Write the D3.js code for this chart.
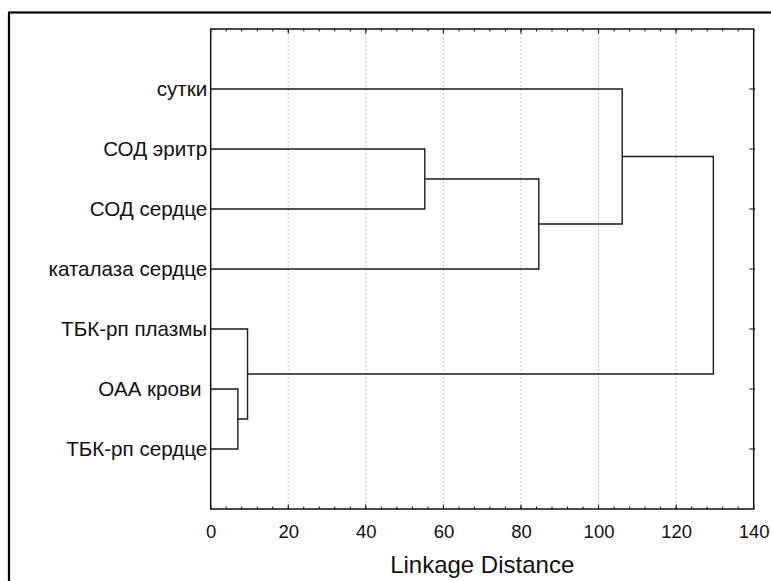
<!DOCTYPE html>
<html>
<head>
<meta charset="utf-8">
<script src="https://cdn.jsdelivr.net/npm/d3@7"></script>
<style>
  html, body { margin: 0; padding: 0; background: #fff; }
  svg { display: block; }
  text { font-family: Arial, "Liberation Sans", sans-serif; fill: #111; }
</style>
</head>
<body>
<svg id="chart" width="771" height="581"></svg>
<script>
// Variables, top to bottom in tree order
const leafLabels = ["сутки", "СОД эритр", "СОД сердце", "каталаза сердце",
                    "ТБК-рп плазмы", "ОАА крови ", "ТБК-рп сердце"];

// Agglomeration steps: joinFirst + joinSecond -> joinName at joinDistance
const joinName     = ["K1", "K2", "K3", "K4", "K5", "K6"];
const joinFirst    = ["СОД эритр", "K1", "сутки", "ОАА крови ", "ТБК-рп плазмы", "K3"];
const joinSecond   = ["СОД сердце", "каталаза сердце", "K2", "ТБК-рп сердце", "K4", "K5"];
const joinDistance = [55.2, 84.6, 106.1, 7.0, 9.5, 129.6];

const xTickValues = [0, 20, 40, 60, 80, 100, 120, 140];
const xDomain = [0, 140];
const xTitle = "Linkage Distance";

// Build the nested tree from the join table
const nodes = new Map(leafLabels.map(n => [n, { name: n, dist: 0 }]));
joinName.forEach((n, i) => {
  nodes.set(n, {
    name: n,
    dist: joinDistance[i],
    children: [nodes.get(joinFirst[i]), nodes.get(joinSecond[i])]
  });
});
const root = d3.hierarchy(nodes.get(joinName[joinName.length - 1]));

const svg = d3.select("#chart");
const plot = { left: 210.7, right: 753.7, top: 29, bottom: 509 };

const x = d3.scaleLinear().domain(xDomain).range([plot.left, plot.right]);
const y = d3.scalePoint().domain(leafLabels).range([plot.top, plot.bottom]).padding(1);

// Outer frame
svg.append("rect")
  .attr("x", 9).attr("y", 12.5)
  .attr("width", 800).attr("height", 600)
  .attr("fill", "none").attr("stroke", "#000").attr("stroke-width", 2.2);

// Vertical dotted grid
svg.append("g")
  .selectAll("line")
  .data(xTickValues.filter(v => v > xDomain[0] && v < xDomain[1]))
  .join("line")
  .attr("x1", d => x(d)).attr("x2", d => x(d))
  .attr("y1", plot.top).attr("y2", plot.bottom)
  .attr("stroke", "#c4c4c4").attr("stroke-width", 1)
  .attr("stroke-dasharray", "2,2");

// Tick marks: minor every 4 units, major at labelled values
const minorTicks = d3.range(xDomain[0], xDomain[1] + 0.001, 4);
const tickG = svg.append("g").attr("stroke", "#111").attr("stroke-width", 1);
[plot.top, plot.bottom].forEach((yy, k) => {
  const dir = k === 0 ? 1 : -1;
  tickG.selectAll(null).data(minorTicks).join("line")
    .attr("x1", d => x(d)).attr("x2", d => x(d))
    .attr("y1", yy).attr("y2", yy + dir * 2.5);
  tickG.selectAll(null).data(xTickValues).join("line")
    .attr("x1", d => x(d)).attr("x2", d => x(d))
    .attr("y1", yy).attr("y2", yy + dir * 4.5);
});
// Right-hand ticks at each leaf
tickG.selectAll(null).data(leafLabels).join("line")
  .attr("x1", plot.right - 4.5).attr("x2", plot.right + 1.5)
  .attr("y1", d => y(d)).attr("y2", d => y(d));

// Bottom axis labels
const xAxis = d3.axisBottom(x).tickValues(xTickValues).tickSize(0).tickPadding(0)
  .tickFormat(d3.format("d"));
const gx = svg.append("g").attr("transform", `translate(0,${plot.bottom})`).call(xAxis);
gx.select(".domain").remove();
gx.selectAll("text")
  .attr("y", 28.5).attr("dy", null)
  .style("font-size", "18.5px")
  .style("font-family", "Arial, 'Liberation Sans', sans-serif")
  .attr("fill", "#111");

// Axis title
svg.append("text")
  .attr("x", (plot.left + plot.right) / 2).attr("y", 573)
  .attr("text-anchor", "middle")
  .style("font-size", "24px")
  .text(xTitle);

// Leaf labels
svg.append("g").selectAll("text").data(leafLabels).join("text")
  .attr("x", plot.left - 3.5)
  .attr("y", d => y(d) + 7)
  .attr("text-anchor", "end")
  .style("font-size", "20.6px")
  .style("white-space", "pre")
  .text(d => d);

// Node positions: leaves from the point scale, joins at the midpoint of their children
root.eachAfter(n => {
  n.py = n.children ? (n.children[0].py + n.children[1].py) / 2 : y(n.data.name);
  n.px = x(n.data.dist);
});

// Elbow links of the dendrogram
const linkG = svg.append("g").attr("fill", "none").attr("stroke", "#1b1b1b").attr("stroke-width", 1.4);
root.descendants().filter(n => n.children).forEach(n => {
  const [a, b] = n.children;
  linkG.append("path")
    .attr("d", `M${a.px},${a.py}H${n.px}V${b.py}H${b.px}`);
});

// Plot frame
svg.append("rect")
  .attr("x", plot.left).attr("y", plot.top)
  .attr("width", plot.right - plot.left).attr("height", plot.bottom - plot.top)
  .attr("fill", "none").attr("stroke", "#111").attr("stroke-width", 1.5);
</script>
</body>
</html>
